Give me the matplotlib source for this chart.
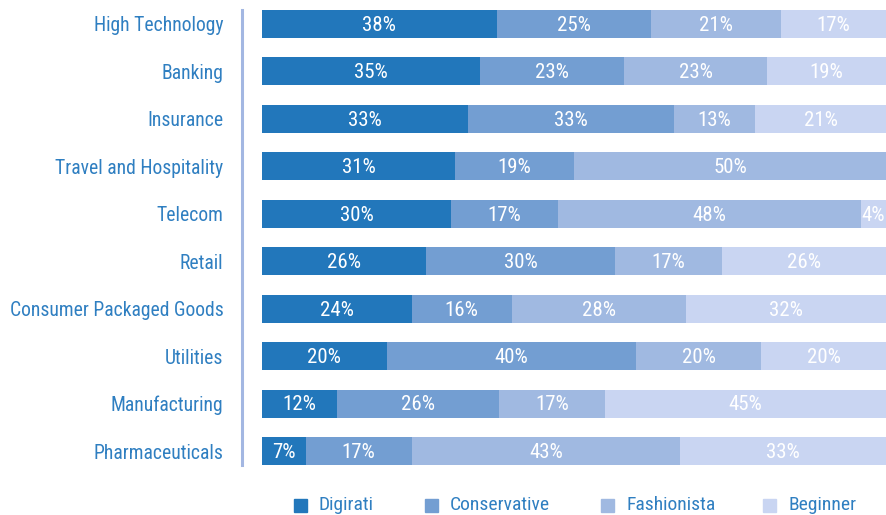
import numpy as np
import matplotlib
matplotlib.use("Agg")
import matplotlib.pyplot as plt
from matplotlib import font_manager
from matplotlib.patches import Rectangle

industries = ["High Technology", "Banking", "Insurance", "Travel and Hospitality",
              "Telecom", "Retail", "Consumer Packaged Goods", "Utilities",
              "Manufacturing", "Pharmaceuticals"]
series = ["Digirati", "Conservative", "Fashionista", "Beginner"]
digirati = [38, 35, 33, 31, 30, 26, 24, 20, 12, 7]
conservative = [25, 23, 33, 19, 17, 30, 16, 40, 26, 17]
fashionista = [21, 23, 13, 50, 48, 17, 28, 20, 17, 43]
beginner = [17, 19, 21, 0, 4, 26, 32, 20, 45, 33]
colors = ["#2277bb", "#739ed2", "#a0b9e1", "#c9d5f2"]

# pick a condensed face if one is installed
names = {f.name for f in font_manager.fontManager.ttflist}
fam = "Roboto"
for cand in ["Roboto Condensed", "Liberation Sans Narrow", "Archivo Narrow",
             "PT Sans Narrow", "Fira Sans Condensed"]:
    if cand in names:
        fam = cand
        break
plt.rcParams["font.family"] = [fam, "DejaVu Sans"]

data = np.array([digirati, conservative, fashionista, beginner], dtype=float)
# bars are drawn as shares of each row's total
shares = data / data.sum(axis=0) * 100

fig = plt.figure(figsize=(8.86, 5.15), dpi=100)
ax = fig.add_axes([242 / 886, 1 - 465 / 515, 644 / 886, 455 / 515])

y = np.arange(len(industries))
left = np.zeros(len(industries))
for vals, raw, col in zip(shares, data, colors):
    ax.barh(y, vals, left=left, height=0.59, color=col, edgecolor="none")
    for yi, (l, v, r) in enumerate(zip(left, vals, raw)):
        if r > 0:
            ax.text(l + v / 2, yi + 0.03, f"{int(r)}%", ha="center", va="center",
                    color="white", fontsize=15)
    left += vals

ax.set_xlim(-3.2, 100)
ax.set_ylim(len(industries) - 1 + 0.295, -0.295)
ax.set_yticks(y)
ax.set_yticklabels(industries, fontsize=14.1, color="#2f7fc1")
ax.tick_params(axis="y", length=0, pad=13.5)
ax.set_xticks([])
for s in ["top", "right", "bottom"]:
    ax.spines[s].set_visible(False)
ax.spines["left"].set_color("#a3b7e2")
ax.spines["left"].set_linewidth(2.2)

# legend row at the bottom
legend_x = [294, 425, 601, 763]
for lx, name, col in zip(legend_x, series, colors):
    fig.add_artist(Rectangle((lx / 886, 1 - 512 / 515), 13 / 886, 13 / 515,
                             transform=fig.transFigure, color=col))
    fig.text((lx + 25) / 886, 1 - 505 / 515, name, ha="left", va="center",
             fontsize=14, color="#2f7fc1")

fig.savefig("out.png", dpi=100)
